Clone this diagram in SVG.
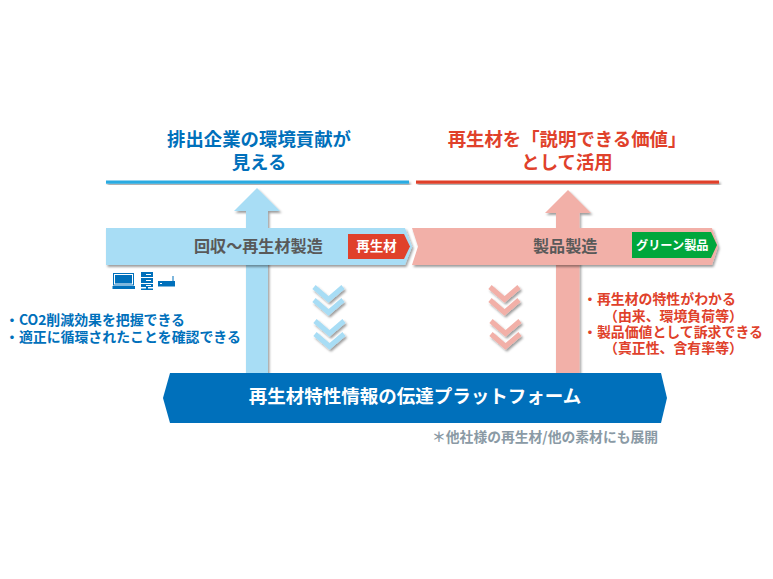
<svg xmlns="http://www.w3.org/2000/svg" width="773" height="579" viewBox="0 0 773 579">
<style>
text{font-family:"Noto Sans CJK JP","Noto Sans",sans-serif;font-weight:700;text-spacing-trim:space-all}
.t{font-size:18.400px}
.m{text-anchor:middle}
.b{fill:#0070bb}
.r{fill:#e0412b}
.g{fill:#595959;font-size:16.100px}
.s{font-size:13.900px}
.w{fill:#fff}
.ch{fill:none;stroke-width:5}
.sh{filter:url(#ds)}
</style>
<defs>
<filter id="ds" x="-10%" y="-10%" width="125%" height="125%"><feDropShadow dx="1.5" dy="2" stdDeviation="1.200" flood-color="#000" flood-opacity=".38"/></filter>
<g id="dbl"><path class="ch" d="M314 287L328.500 299.500L343 287"/><path class="ch" d="M314 300L328.500 312.500L343 300"/></g>
</defs>
<rect width="773" height="579" fill="#fff"/>
<g id="connectors">
<path class="sh" fill="#a8ddf5" d="M257 188L280 211H268V374H246V211H234Z"/>
<path class="sh" fill="#f2b0a8" d="M568 190L591 213H579.500V374H556V213H545Z"/>
<g class="sh" stroke="#a8ddf5"><use href="#dbl"/><use href="#dbl" x="1" y="34"/></g>
<g class="sh" stroke="#f2b0a8"><use href="#dbl" x="176"/><use href="#dbl" x="177" y="34"/></g>
</g>
<g id="title-left"><text class="t m b" x="259" y="146">排出企業の環境貢献が<tspan x="259" y="169">見える</tspan></text><rect class="sh" x="106" y="180.500" width="303" height="3.200" fill="#29abe2"/></g>
<g id="title-right"><text class="t m r" x="567" y="146">再生材を「説明できる価値」<tspan x="567" y="169">として活用</tspan></text><rect class="sh" x="416" y="180.500" width="303" height="3.200" fill="#e0412b"/></g>
<g id="band-left"><path class="sh" fill="#a8ddf5" d="M106 228H405L412 246.500L405 265H106Z"/><text class="g" x="194" y="252">回収～再生材製造</text>
<path fill="#e0412b" d="M348 234H404L410 246.500L404 259H348Z"/><text class="w m" font-size="13.500" x="376.500" y="251">再生材</text></g>
<g id="band-right"><path class="sh" fill="#f2b0a8" d="M412 228H712L718 246.500L712 265H412L418 246.500Z"/><text class="g" x="533" y="252">製品製造</text>
<path fill="#00a73c" d="M632 232H711L717 245L711 258H632Z"/><text class="w" font-size="12.200px" x="636" y="249.500">グリーン製品</text></g>
<g id="icons" fill="#0070bb">
<path fill-rule="evenodd" d="M113 273H134V285.500H113ZM114 274V284.500H133V274Z"/><rect x="115" y="275" width="17" height="8.500"/><path d="M112.500 286H135V289H112.500Z"/>
<path d="M141 272H153V277H141ZM141 278H153V283H141ZM141 284H153V287H148V288.500H153V290H141V288.500H146V287H141Z"/>
<path fill="#fff" d="M146 274H151V275H146ZM146 280H151V281H146ZM146 285H151V286H146Z"/>
<path d="M158 281H175V286.500H158ZM172.500 276H173.500V281H172.500Z"/>
<rect x="160" y="283" width="2" height="1" fill="#fff"/>
</g>
<g id="text-left"><text class="s b" x="5" y="325">・CO2削減効果を把握できる<tspan x="5" y="342">・適正に循環されたことを確認できる</tspan></text></g>
<g id="text-right"><text class="s r" x="583" y="304">・再生材の特性がわかる<tspan x="604" y="321">（由来、環境負荷等）</tspan><tspan x="583" y="337">・製品価値として訴求できる</tspan><tspan x="604" y="353">（真正性、含有率等）</tspan></text></g>
<g id="platform"><path fill="#0070bb" d="M170 373H661L667 398L661 423H170L163 398Z"/><text class="w m" font-size="18.500px" x="415" y="403">再生材特性情報の伝達プラットフォーム</text></g>
<text id="note" font-size="13.800px" fill="#8a9aa5" x="432" y="442">＊他社様の再生材/他の素材にも展開</text>
</svg>
